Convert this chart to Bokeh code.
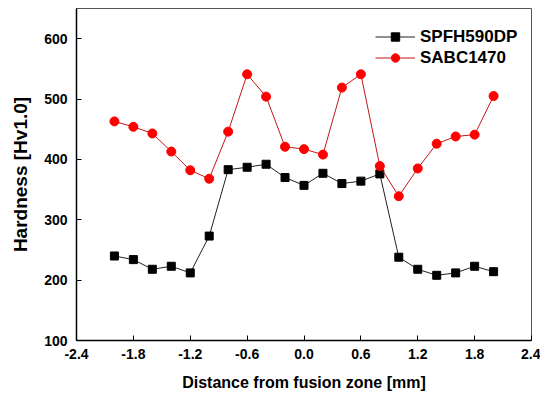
from bokeh.plotting import figure
from bokeh.embed import file_html
from bokeh.resources import INLINE
from bokeh.models import FixedTicker, PrintfTickFormatter, Legend, LegendItem

distance = [-2.0, -1.8, -1.6, -1.4, -1.2, -1.0, -0.8, -0.6, -0.4, -0.2, 0.0,
            0.2, 0.4, 0.6, 0.8, 1.0, 1.2, 1.4, 1.6, 1.8, 2.0]
spfh590dp = [240, 234, 218, 223, 212, 273, 383, 387, 392, 370, 357,
             377, 360, 364, 376, 238, 218, 208, 212, 223, 214]
sabc1470 = [463, 454, 443, 413, 382, 368, 446, 541, 504, 421, 417,
            408, 519, 541, 389, 339, 385, 426, 438, 441, 505]
x_ticks = [-2.4, -1.8, -1.2, -0.6, 0.0, 0.6, 1.2, 1.8, 2.4]
y_ticks = [100, 200, 300, 400, 500, 600]

FONT = "Liberation Sans"

p = figure(width=540, height=393, x_range=(-2.4, 2.4), y_range=(100, 650),
           output_backend="svg", toolbar_location=None,
           min_border_left=76, min_border_right=9, min_border_top=8, min_border_bottom=49)

p.xgrid.visible = False
p.ygrid.visible = False
p.outline_line_color = "#555555"
p.outline_line_width = 1

for ax in (p.xaxis[0], p.yaxis[0]):
    ax.axis_line_color = "black"
    ax.axis_line_width = 1.5
    ax.major_tick_in = 5
    ax.major_tick_out = 0
    ax.major_tick_line_color = "black"
    ax.minor_tick_line_color = None
    ax.major_label_text_font = FONT
    ax.major_label_text_font_style = "bold"
    ax.major_label_text_font_size = "14px"
    ax.major_label_text_color = "black"
    ax.axis_label_text_font = FONT
    ax.axis_label_text_font_style = "bold"
    ax.axis_label_text_color = "black"

p.xaxis.ticker = FixedTicker(ticks=x_ticks)
p.xaxis.formatter = PrintfTickFormatter(format="%.1f")
p.yaxis.ticker = FixedTicker(ticks=y_ticks)
p.xaxis.axis_label = "Distance from fusion zone [mm]"
p.yaxis.axis_label = "Hardness [Hv1.0]"
p.xaxis.axis_label_text_font_size = "16px"
p.yaxis.axis_label_text_font_size = "19px"
p.xaxis.major_label_standoff = 8
p.yaxis.major_label_standoff = 9
p.xaxis.axis_label_standoff = 12
p.yaxis.axis_label_standoff = 10

l1 = p.line(distance, spfh590dp, line_color="#222222", line_width=1)
m1 = p.scatter(distance, spfh590dp, marker="square", size=8, fill_color="black", line_color="black")
l2 = p.line(distance, sabc1470, line_color="#c01818", line_width=1)
m2 = p.scatter(distance, sabc1470, marker="circle", size=9, fill_color="#ff0000", line_color="#ff0000")

legend = Legend(items=[LegendItem(label="SPFH590DP", renderers=[l1, m1]),
                       LegendItem(label="SABC1470", renderers=[l2, m2])],
                location=(299, 272), padding=0, margin=0, spacing=0,
                glyph_width=40, glyph_height=21, label_height=21, label_standoff=5,
                label_text_font=FONT, label_text_font_style="bold",
                label_text_font_size="17px", label_text_color="black",
                border_line_color=None, background_fill_alpha=0)
p.add_layout(legend)

open("out.html", "w").write(file_html(p, INLINE))
